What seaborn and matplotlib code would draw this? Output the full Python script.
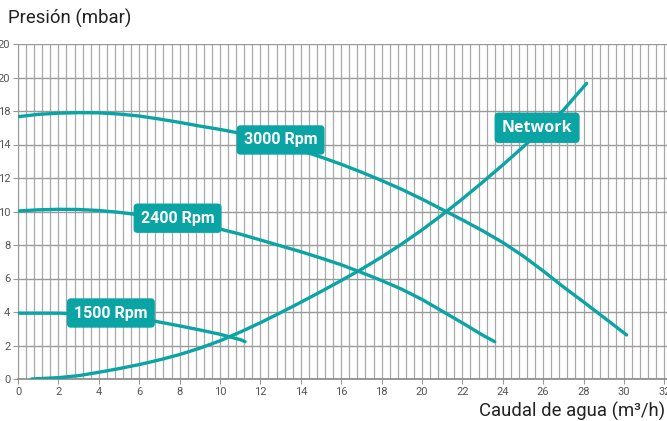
import numpy as np
import pandas as pd
import matplotlib
matplotlib.use("Agg")
import matplotlib.pyplot as plt
from matplotlib.ticker import MultipleLocator, FixedLocator, FixedFormatter
import seaborn as sns

# curve values (x: caudal m3/h, y: presion)
x_3000 = [0, 1, 2, 3, 4, 5, 6, 7, 8, 9, 10, 11, 12, 13, 14, 15, 16, 17, 18, 19, 20,
          21, 22, 23, 24, 25, 26, 27, 28, 29, 30.13]
y_3000 = [15.66, 15.8, 15.87, 15.9, 15.89, 15.82, 15.7, 15.52, 15.32, 15.1, 14.9, 14.67,
          14.4, 14.05, 13.65, 13.25, 12.82, 12.35, 11.85, 11.32, 10.74, 10.12, 9.5, 8.85,
          8.15, 7.35, 6.45, 5.5, 4.6, 3.68, 2.63]

x_2400 = [0, 1, 2, 3, 4, 5, 6, 7, 8, 9, 10, 11, 12, 13, 14, 15, 16, 17, 18, 19, 20,
          21, 22, 23, 23.6]
y_2400 = [10.03, 10.1, 10.13, 10.12, 10.06, 9.95, 9.8, 9.6, 9.38, 9.15, 8.95, 8.65,
          8.3, 7.95, 7.6, 7.22, 6.82, 6.36, 5.88, 5.36, 4.75, 4.05, 3.35, 2.62, 2.23]

x_1500 = [0, 1, 2, 3, 4, 5, 6, 7, 8, 9, 10, 11, 11.24]
y_1500 = [3.93, 3.93, 3.93, 3.9, 3.85, 3.75, 3.62, 3.4, 3.17, 2.93, 2.67, 2.35, 2.23]

x_net = [0.68, 1, 2, 3, 4, 5, 6, 7, 8, 9, 10, 11, 12, 13, 14, 15, 16, 17, 18, 19, 20,
         21, 22, 23, 24, 25, 26, 27, 28.15]
y_net = [0.0, 0.02, 0.08, 0.2, 0.4, 0.62, 0.86, 1.14, 1.46, 1.84, 2.28, 2.8, 3.36, 3.96,
         4.58, 5.22, 5.88, 6.55, 7.28, 8.06, 8.9, 9.8, 10.75, 11.75, 12.78, 13.85, 14.95,
         16.05, 17.65]

labels = ["3000 Rpm", "2400 Rpm", "1500 Rpm", "Network"]
label_x = [13.0, 7.9, 4.6, 25.7]
label_y = [14.27, 9.6, 3.94, 15.0]

y_ticks = [0, 2, 4, 6, 8, 10, 12, 14, 16, 18, 20]
y_tick_labels = ["0", "2", "4", "6", "8", "10", "12", "14", "18", "20", "20"]
x_ticks = list(range(0, 34, 2))

teal = "#0aa4a4"

sns.set_style("white")
plt.rcParams["font.family"] = ["Roboto", "DejaVu Sans"]

fig = plt.figure(figsize=(6.67, 4.21), dpi=100)
ax = fig.add_axes([18 / 667, 1 - 379 / 421, 1 - 18 / 667, (379 - 44) / 421])

curves = [(x_3000, y_3000), (x_2400, y_2400), (x_1500, y_1500), (x_net, y_net)]
for xs, ys in curves:
    df = pd.DataFrame({"x": xs, "y": ys})
    sns.lineplot(data=df, x="x", y="y", ax=ax, color=teal, linewidth=2.4,
                 sort=False, estimator=None, zorder=3,
                 solid_joinstyle="round", solid_capstyle="round")

for name, lx, ly in zip(labels, label_x, label_y):
    fam = ["Open Sans", "DejaVu Sans"] if name == "Network" else ["Roboto", "DejaVu Sans"]
    ax.text(lx, ly, name, ha="center", va="center", color="white", fontsize=11.5,
            fontweight="bold", family=fam, zorder=5,
            bbox=dict(boxstyle="round,pad=0.45,rounding_size=0.25", fc=teal, ec="none"))

ax.set_xlim(0, 32.13)
ax.set_ylim(0, 20)
ax.xaxis.set_major_locator(FixedLocator(x_ticks))
ax.xaxis.set_minor_locator(MultipleLocator(0.4))
ax.yaxis.set_major_locator(FixedLocator(y_ticks))
ax.yaxis.set_major_formatter(FixedFormatter(y_tick_labels))

ax.grid(which="minor", axis="x", color="#a8a8a8", linewidth=0.9)
ax.grid(which="major", axis="x", color="#a8a8a8", linewidth=0.9)
ax.grid(which="major", axis="y", color="#9a9a9a", linewidth=1.0)
ax.set_axisbelow(True)

ax.tick_params(axis="both", which="both", direction="out", length=3.5, width=0.8,
               color="#999999", labelsize=8, labelcolor="#555555", pad=2)
ax.tick_params(axis="y", left=True)
ax.tick_params(axis="x", bottom=True)

for s in ["top", "right"]:
    ax.spines[s].set_visible(False)
ax.spines["left"].set_color("#999999")
ax.spines["bottom"].set_color("#888888")
ax.spines["bottom"].set_linewidth(1.2)

ax.set_xlabel("")
ax.set_ylabel("")

fig.text(8 / 667, 1 - 18 / 421, "Presión (mbar)", ha="left", va="center",
         fontsize=13.4, color="#222222")
fig.text(665 / 667, 1 - 411 / 421, "Caudal de agua (m³/h)", ha="right", va="center",
         fontsize=13.3, color="#222222")

fig.savefig("out.png", dpi=100)
